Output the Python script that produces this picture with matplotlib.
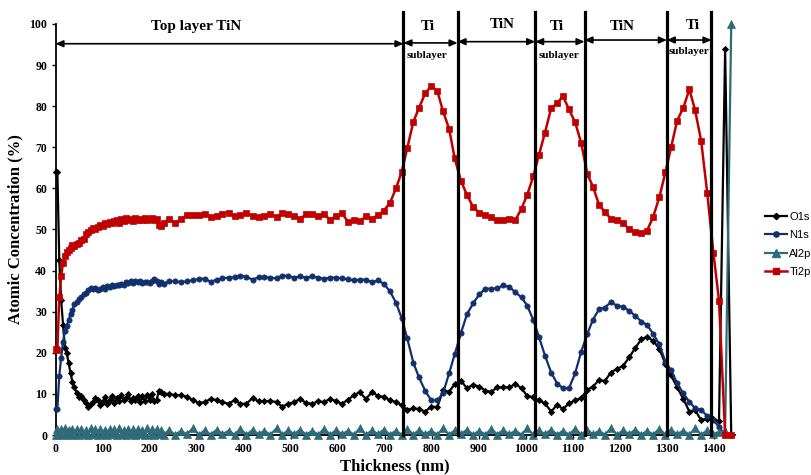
import matplotlib
matplotlib.use("Agg")
import matplotlib.pyplot as plt
from matplotlib.lines import Line2D

# ---------------- data ----------------
THICKNESS = [0, 4, 8, 12, 16, 20, 24, 28, 32, 36,
             40, 45, 50, 55, 60, 65, 70, 75, 80, 85,
             90, 95, 100, 105, 110, 115, 120, 125, 130, 135,
             140, 145, 150, 155, 160, 165, 170, 175, 180, 185,
             190, 195, 200, 205, 210, 215, 220, 225, 230,
             241, 254, 267, 279, 292, 305, 317, 330, 343, 355,
             368, 381, 393, 406, 419, 432, 444, 457, 470, 482,
             495, 508, 520, 533, 546, 559, 571, 584, 597, 609,
             622, 635, 647, 660, 673, 686, 698,
             711, 724, 736, 748, 761, 773, 786, 799, 812, 824,
             837, 849, 862, 875, 888, 901, 914, 927, 939, 952,
             965, 978, 991, 1003, 1016, 1028, 1041, 1054, 1067, 1079,
             1092, 1105, 1118, 1131, 1143, 1156, 1168, 1181, 1194, 1207,
             1220, 1233, 1246, 1258, 1271, 1284, 1297, 1309, 1322, 1335,
             1348, 1360, 1373, 1386, 1399, 1411, 1424, 1437]

O1S = [64.0, 63.9, 42.6, 32.8, 26.8, 21.1, 19.9, 17.4, 15.0, 13.0,
       11.8, 10.1, 9.3, 9.5, 8.5, 7.9, 6.9, 7.5, 8.1, 8.9,
       8.5, 7.2, 8.0, 9.2, 7.6, 8.5, 9.6, 7.8, 9.0, 8.2,
       9.8, 8.4, 9.0, 9.9, 8.2, 9.0, 8.6, 9.5, 8.0, 9.6,
       8.3, 9.8, 8.5, 10.0, 8.2, 8.5, 10.8, 10.5, 10.0,
       10.0, 9.7, 9.7, 9.3, 8.5, 7.8, 8.0, 8.8, 8.5, 8.0,
       7.6, 8.5, 7.6, 7.6, 9.0, 8.2, 8.2, 8.3, 8.0, 6.9,
       7.6, 8.0, 8.8, 7.8, 7.6, 8.2, 8.0, 8.8, 8.2, 7.6,
       8.6, 9.7, 10.4, 8.8, 10.4, 9.5, 9.3,
       8.5, 8.0, 7.3, 6.1, 6.5, 6.3, 5.7, 6.9, 6.8, 10.9,
       10.5, 12.4, 13.2, 11.4, 12.2, 11.8, 10.8, 10.5, 11.6, 11.6,
       11.6, 12.4, 11.4, 9.5, 9.2, 8.4, 7.7, 5.7, 7.4, 6.3,
       7.7, 8.4, 9.0, 11.0, 11.8, 13.4, 13.1, 15.2, 16.1, 16.8,
       18.9, 21.2, 23.3, 23.9, 22.9, 21.0, 17.3, 14.5, 11.6, 8.8,
       5.7, 6.1, 3.6, 4.0, 4.0, 3.3, 94.0, 0.0]

N1S = [6.3, 6.4, 14.4, 18.8, 22.6, 25.3, 26.6, 28.0, 29.5, 30.4,
       31.8, 32.4, 33.0, 33.6, 34.2, 34.6, 35.3, 35.7, 35.5, 35.7,
       35.3, 35.6, 35.9, 35.5, 36.3, 36.0, 36.5, 36.2, 36.6, 36.4,
       36.8, 36.5, 37.2, 36.9, 37.4, 37.1, 37.5, 37.2, 37.5, 37.0,
       37.3, 37.2, 37.0, 37.5, 37.9, 37.4, 36.8, 37.2, 36.8,
       37.4, 37.4, 37.2, 37.4, 37.6, 38.0, 38.0, 37.3, 37.8, 38.1,
       38.3, 38.4, 38.8, 38.5, 37.8, 38.4, 38.4, 38.3, 38.1, 38.8,
       38.7, 38.3, 38.6, 38.3, 38.6, 38.3, 38.0, 38.3, 38.3, 38.1,
       37.9, 37.6, 37.8, 37.8, 37.2, 37.6, 36.8,
       35.0, 32.2, 28.5, 23.5, 17.6, 14.0, 10.8, 8.4, 8.5, 10.1,
       15.0, 19.7, 24.7, 29.4, 32.0, 34.2, 35.6, 35.6, 35.7, 36.4,
       36.1, 34.7, 33.5, 31.5, 28.0, 23.9, 19.3, 15.2, 12.5, 11.4,
       11.4, 15.0, 20.3, 24.6, 28.1, 30.6, 31.0, 32.3, 31.5, 31.2,
       30.2, 29.0, 27.6, 26.8, 24.6, 22.1, 17.8, 15.8, 12.6, 10.1,
       8.1, 6.5, 6.1, 4.6, 3.6, 2.0, 0.0, 0.0]

AL2P = [0.1, 1.5, 0.2, 1.4, 0.1, 1.6, 0.2, 1.3, 0.1, 1.5,
        0.2, 1.4, 0.1, 1.5, 0.2, 1.3, 0.1, 1.6, 0.2, 1.4,
        0.1, 1.5, 0.2, 1.3, 0.1, 1.5, 0.2, 1.4, 0.1, 1.6,
        0.2, 1.3, 0.1, 1.5, 0.2, 1.4, 0.1, 1.5, 0.2, 1.3,
        0.1, 1.6, 0.2, 1.4, 0.1, 1.5, 0.2, 1.3, 0.1,
        1.2, 0.1, 1.0, 0.2, 1.6, 0.1, 1.1, 0.1, 1.3, 0.2,
        1.0, 0.1, 1.5, 0.1, 1.2, 0.2, 1.0, 0.1, 1.6, 0.1,
        1.1, 0.2, 1.3, 0.1, 1.0, 0.1, 1.5, 0.1, 1.2, 0.2,
        1.0, 0.1, 1.6, 0.1, 1.1, 0.2, 1.3,
        0.1, 1.0, 0.1, 1.5, 0.1, 1.2, 0.2, 1.0, 0.1, 1.6,
        0.1, 1.1, 0.2, 1.3, 0.1, 1.0, 0.1, 1.5, 0.1, 1.2,
        0.2, 1.0, 0.1, 1.6, 0.1, 1.1, 0.2, 1.3, 0.1, 1.0,
        0.1, 1.5, 0.1, 1.2, 0.2, 1.0, 0.1, 1.6, 0.1, 1.1,
        0.2, 1.3, 0.1, 1.0, 0.1, 1.5, 0.1, 1.2, 0.2, 1.0,
        0.1, 1.6, 0.1, 1.1, 0.2, 0.8, 1.0, 100.0]

TI2P = [21.0, 20.8, 33.5, 38.7, 41.8, 43.5, 44.6, 45.0, 45.5, 46.2,
        46.0, 46.5, 46.8, 47.4, 47.8, 48.8, 49.5, 49.9, 50.3, 50.0,
        50.7, 51.2, 50.8, 51.5, 51.3, 51.9, 51.6, 52.0, 52.3, 51.7,
        52.5, 52.0, 52.7, 52.3, 52.6, 52.1, 52.8, 52.4, 52.6, 52.2,
        52.7, 52.4, 52.5, 52.9, 52.3, 52.6, 51.2, 50.8, 51.5,
        52.6, 51.6, 52.5, 53.5, 53.6, 53.5, 53.8, 53.0, 53.4, 53.8,
        54.1, 53.2, 53.6, 54.0, 53.3, 53.1, 53.2, 53.7, 53.0, 53.9,
        53.7, 53.3, 52.5, 53.8, 53.8, 53.3, 53.7, 52.4, 53.3, 54.0,
        51.9, 52.4, 52.0, 53.2, 52.6, 53.5, 54.6,
        56.4, 60.0, 63.9, 69.8, 76.2, 79.6, 83.1, 84.9, 83.7, 78.8,
        74.5, 67.3, 61.9, 58.4, 55.5, 54.1, 53.5, 53.0, 52.3, 52.2,
        52.5, 52.3, 55.1, 58.4, 62.9, 68.1, 73.6, 79.5, 80.7, 82.5,
        79.2, 76.1, 71.0, 63.5, 60.4, 56.0, 54.3, 52.6, 52.3, 51.7,
        50.0, 49.3, 49.2, 49.7, 53.1, 57.8, 63.9, 70.0, 76.5, 79.6,
        84.1, 79.1, 71.6, 58.8, 44.4, 32.7, 0.0, 0.0]

SERIES_NAMES = ["O1s", "N1s", "Al2p", "Ti2p"]

# layer boundaries (nm) and layer annotations
BOUNDARIES = [740, 855, 1020, 1125, 1300, 1395]
LAYER_SPANS = [(0, 740), (740, 855), (855, 1020), (1020, 1125), (1125, 1300), (1300, 1395)]
LAYER_TITLES = ["Top layer TiN", "Ti", "TiN", "Ti", "TiN", "Ti"]

X_TICKS = list(range(0, 1401, 100))
Y_TICKS = list(range(0, 101, 10))

# ---------------- figure ----------------
W, H = 811, 475
fig = plt.figure(figsize=(W / 100, H / 100), dpi=100)
ax = fig.add_axes([55.5 / W, 40 / H, 679.5 / W, 411 / H])

serif = "Liberation Serif"

styles = [
    dict(color="black", marker="D", ms=3.2, lw=1.6),
    dict(color="#12306e", marker="o", ms=3.8, lw=1.6),
    dict(color="#2f6b78", marker="^", ms=5.5, lw=1.6),
    dict(color="#c00000", marker="s", ms=4.3, lw=1.8),
]
data = [O1S, N1S, AL2P, TI2P]
handles = []
for name, vals, st in zip(SERIES_NAMES, data, styles):
    ln, = ax.plot(THICKNESS, vals, color=st["color"], marker=st["marker"],
                  markersize=st["ms"], linewidth=st["lw"], clip_on=False,
                  markeredgewidth=0.5, zorder=3, label=name)
    handles.append(ln)

ax.set_xlim(0, 1445)
ax.set_ylim(0, 100)
ax.set_xticks(X_TICKS)
ax.set_yticks(Y_TICKS)
for s in ("top", "right"):
    ax.spines[s].set_visible(False)
for s in ("left", "bottom"):
    ax.spines[s].set_linewidth(1.3)
    ax.spines[s].set_color("black")
ax.tick_params(axis="both", direction="out", length=3, width=1.0, pad=3,
               labelsize=8.5)
for lab in ax.get_xticklabels() + ax.get_yticklabels():
    lab.set_fontfamily(serif)
    lab.set_fontweight("bold")

ax.set_xlabel("Thickness (nm)", fontfamily=serif, fontweight="bold",
              fontsize=12, labelpad=2)
ax.set_ylabel("Atomic Concentration (%)", fontfamily=serif, fontweight="bold",
              fontsize=12, labelpad=4)

# layer boundary lines
for b in BOUNDARIES:
    ax.plot([b, b], [0, 103], color="black", lw=2.3, clip_on=False, zorder=5)

# double arrows and labels
arrow_y = [95.2, 95.4, 95.7, 95.7, 96.1, 96.1]
for (a, b), yy in zip(LAYER_SPANS, arrow_y):
    ax.annotate("", xy=(b, yy), xytext=(a, yy),
                arrowprops=dict(arrowstyle="<|-|>,head_length=0.45,head_width=0.2",
                                color="black", lw=1.2, shrinkA=0, shrinkB=0),
                annotation_clip=False, zorder=6)

title_x = [300, 791, 951, 1065, 1206, 1355]
title_y = [99.3, 99.3, 99.8, 99.3, 99.3, 99.6]
for t, xx, yy in zip(LAYER_TITLES, title_x, title_y):
    ax.text(xx, yy, t, ha="center", va="center", fontfamily=serif,
            fontweight="bold", fontsize=11, clip_on=False)

sub_x = [791, 1070, 1347]
sub_y = [92.3, 92.3, 93.3]
for xx, yy in zip(sub_x, sub_y):
    ax.text(xx, yy, "sublayer", ha="center", va="center", fontfamily=serif,
            fontweight="bold", fontsize=8, clip_on=False)

# legend (partly cut by right figure edge, like the reference)
fig.legend(handles=[Line2D([], [], color=st["color"], marker=st["marker"],
                           markersize=st["ms"], lw=st["lw"]) for st in styles],
           labels=SERIES_NAMES, loc="upper left",
           bbox_to_anchor=(765 / W, (H - 212) / H), frameon=False,
           borderpad=0, borderaxespad=0, handlelength=2.0, handletextpad=0.2,
           labelspacing=0.75, prop={"family": "Liberation Sans", "size": 8})

fig.savefig("out.png", dpi=100)
